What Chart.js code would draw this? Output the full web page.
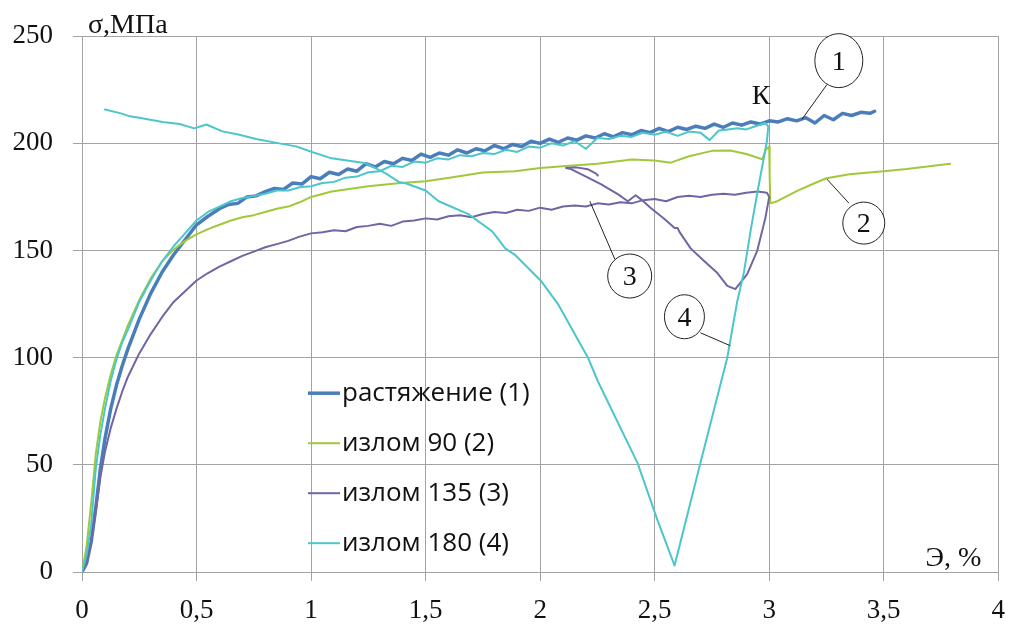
<!DOCTYPE html>
<html>
<head>
<meta charset="utf-8">
<script src="https://cdn.jsdelivr.net/npm/chart.js@4.4.1/dist/chart.umd.min.js"></script>
<style>
  body { margin: 0; background: #fff; }
  canvas { display: block; }
</style>
</head>
<body>
<canvas id="stressChart" width="1019" height="634"></canvas>
<script>
// растяжение (1)
const strain1 = [0, 0.02, 0.04, 0.06, 0.08, 0.1, 0.125, 0.15, 0.175, 0.2, 0.25, 0.3, 0.35, 0.4, 0.45, 0.5, 0.55,
  0.6, 0.64, 0.68, 0.72, 0.76, 0.8, 0.84, 0.88, 0.92, 0.96, 1.0, 1.04, 1.08, 1.12, 1.16, 1.2, 1.24, 1.28, 1.32, 1.36,
  1.4, 1.44, 1.48, 1.52, 1.56, 1.6, 1.64, 1.68, 1.72, 1.76, 1.8, 1.84, 1.88, 1.92, 1.96, 2.0, 2.04, 2.08, 2.12, 2.16,
  2.2, 2.24, 2.28, 2.32, 2.36, 2.4, 2.44, 2.48, 2.52, 2.56, 2.6, 2.64, 2.68, 2.72, 2.76, 2.8, 2.84, 2.88, 2.92, 2.96,
  3.0, 3.04, 3.08, 3.12, 3.16, 3.2, 3.24, 3.28, 3.32, 3.36, 3.4, 3.44, 3.46];
const stress1 = [0, 4, 14, 30, 48, 62, 76, 87, 96, 104, 118, 130, 140, 148, 155, 162, 166,
  169.5, 171.5, 172, 175, 175.5, 177.5, 179, 178.5, 181.5, 181, 184.5, 183.5, 186.5, 185.5, 188, 187, 190.5, 189, 191.5, 190.5,
  193, 192, 195, 193.5, 195.5, 194.5, 197, 195.5, 197.5, 196.5, 199, 197.5, 199.5, 198.5, 201, 200, 202, 200.5, 202.5, 201.5,
  203.5, 202.5, 204.5, 203, 205, 204, 206, 205, 207, 205.5, 207.5, 206.5, 208, 207, 209, 207.5, 209.5, 208.5, 210, 209,
  210.5, 210, 211.5, 210.5, 212, 209.5, 213, 211, 214, 213, 214.5, 214, 215];

// излом 90 (2)
const strain2 = [0, 0.02, 0.04, 0.06, 0.08, 0.1, 0.125, 0.15, 0.175, 0.2, 0.25, 0.3, 0.35, 0.4, 0.45, 0.5, 0.55, 0.6,
  0.65, 0.7, 0.75, 0.8, 0.85, 0.9, 0.95, 1.0, 1.09, 1.25, 1.38, 1.5, 1.59, 1.75, 1.89, 2.0, 2.1, 2.25, 2.4, 2.5, 2.57,
  2.65, 2.75, 2.83, 2.9, 2.97, 2.985, 3.0, 3.002, 3.005, 3.035, 3.08, 3.12, 3.2, 3.25, 3.35, 3.5, 3.6, 3.7, 3.79];
const stress2 = [0, 12, 32, 55, 70, 81, 92, 101, 108, 115, 127, 137, 145, 150.5, 154.5, 157.5, 160, 162,
  164, 165.5, 166.5, 168, 169.5, 170.5, 172.5, 175, 177.5, 180, 181.4, 182.3, 183.7, 186.4, 187, 188.5, 189.3, 190.5, 192.5, 192, 191,
  194, 196.5, 196.7, 195, 192.6, 197, 198.5, 185, 172, 173, 175.5, 177.7, 181.5, 183.7, 185.6, 187, 188, 189.3, 190.5];

// излом 135 (3)
const strain3 = [0, 0.02, 0.04, 0.06, 0.08, 0.1, 0.125, 0.15, 0.175, 0.2, 0.25, 0.3, 0.35, 0.4, 0.45, 0.5, 0.55, 0.6,
  0.65, 0.7, 0.75, 0.8, 0.85, 0.9, 0.95, 1.0, 1.05, 1.1, 1.15, 1.2, 1.25, 1.3, 1.35, 1.4, 1.45, 1.5, 1.55, 1.6, 1.65,
  1.7, 1.75, 1.8, 1.85, 1.9, 1.95, 2.0, 2.05, 2.1, 2.15, 2.2, 2.25, 2.3, 2.35, 2.4, 2.45, 2.5, 2.55, 2.6, 2.65, 2.7,
  2.75, 2.8, 2.85, 2.9, 2.95, 2.99, 3.0, 2.983, 2.948, 2.904, 2.852, 2.817, 2.774, 2.717, 2.657, 2.609, 2.6, 2.587,
  2.543, 2.483, 2.439, 2.417, 2.383, 2.339, 2.265, 2.196, 2.135, 2.113, 2.157, 2.209, 2.243, 2.252];
const stress3 = [0, 4, 14, 28, 44, 56, 67, 76, 84, 91, 102, 111, 119, 126, 131, 136, 139.5, 142.5,
  145, 147.5, 149.5, 151.5, 153, 154.5, 156.5, 158, 158.5, 159.5, 159, 161, 161.5, 162.5, 161.5, 163.5, 164, 165, 164.5, 166, 166.5,
  165.5, 167, 168, 167.5, 169, 168.5, 170, 169, 170.5, 171, 170.5, 172, 171.5, 172.5, 172, 173.5, 174, 173, 175, 175.5, 175,
  176, 176.5, 176, 177, 177.5, 177, 175, 165, 150, 139, 132, 133.5, 139.5, 145, 151, 158.6, 160.5, 160.5,
  164.7, 169.8, 174, 175.8, 173, 176.3, 181, 184.7, 188, 188.5, 188.8, 187.9, 186, 185];

// излом 180 (4)
const strain4 = [0, 0.02, 0.04, 0.06, 0.08, 0.1, 0.125, 0.15, 0.175, 0.2, 0.25, 0.3, 0.35, 0.4, 0.45, 0.5, 0.55, 0.6,
  0.65, 0.7, 0.75, 0.8, 0.85, 0.9, 0.95, 1.0, 1.05, 1.1, 1.15, 1.2, 1.25, 1.3, 1.35, 1.4, 1.45, 1.5, 1.55, 1.6, 1.65,
  1.7, 1.75, 1.8, 1.85, 1.9, 1.95, 2.0, 2.05, 2.1, 2.15, 2.2, 2.25, 2.3, 2.35, 2.4, 2.45, 2.5, 2.55, 2.6, 2.65, 2.7,
  2.74, 2.78, 2.82, 2.86, 2.9, 2.94, 2.98, 2.996,
  2.99, 2.95, 2.92, 2.89, 2.86, 2.817, 2.7, 2.587,
  2.513, 2.426, 2.252, 2.209, 2.078, 2.004, 1.89, 1.848, 1.79, 1.687, 1.6, 1.557, 1.5, 1.413, 1.383, 1.326, 1.24,
  1.09, 1.004, 0.935, 0.861, 0.76, 0.687, 0.613, 0.543, 0.49, 0.426, 0.352, 0.25, 0.209, 0.17, 0.1];
const stress4 = [0, 8, 22, 48, 64, 76, 89, 99, 107, 113, 126, 136, 145, 152, 158, 164, 168, 170.5,
  173, 174.5, 175.5, 176.5, 178, 178, 179.5, 180, 181.5, 182, 184, 184.5, 186.5, 187, 189.5, 189, 191.5, 191, 193, 192.5, 194.5,
  194, 195.5, 195, 197, 196, 198.5, 198, 200, 199, 201, 197.5, 202.5, 202, 203.5, 203, 205, 204, 205.5, 203.5, 205.5, 205,
  201.5, 206, 206.5, 207, 206.5, 208, 209.5, 208,
  201, 178, 160, 140, 126, 100, 51, 3,
  24, 50.7, 89, 100, 125, 135.8, 148, 151, 159, 167, 171, 173, 178, 181.4, 182, 186, 190.7,
  193, 196, 198.6, 200, 202, 204, 205.6, 208.8, 207, 209, 210, 212, 212.6, 214, 215.8];

const seriesNames = ['растяжение (1)', 'излом 90 (2)', 'излом 135 (3)', 'излом 180 (4)'];
const xTicks = [0, 0.5, 1, 1.5, 2, 2.5, 3, 3.5, 4];
const yTicks = [0, 50, 100, 150, 200, 250];

const colors = ['#4a7ebb', '#a0c93a', '#7165a3', '#4cc6ca'];
const widths = [3.5, 2, 2, 2];

const toPoints = (xs, ys) => xs.map((x, i) => ({ x: x, y: ys[i] }));
const allSeries = [
  toPoints(strain1, stress1),
  toPoints(strain2, stress2),
  toPoints(strain3, stress3),
  toPoints(strain4, stress4)
];

const serif = '"Liberation Serif", "Times New Roman", serif';
const gridColor = '#a3a3a3';

// numbered callouts: circle centre and leader line, in axis units
const callouts = [
  { label: '1', cx: 3.304, cy: 238.6, rx: 24, ry: 27, from: [3.252, 227.4], to: [3.143, 211.2] },
  { label: '2', cx: 3.413, cy: 162.8, rx: 21, ry: 21, from: [3.348, 172.1], to: [3.252, 183.3] },
  { label: '3', cx: 2.391, cy: 138.1, rx: 22, ry: 22, from: [2.326, 146], to: [2.217, 173] },
  { label: '4', cx: 2.630, cy: 119.1, rx: 20, ry: 22, from: [2.7, 111.6], to: [2.83, 105.6] }
];

const annotations = {
  id: 'annotations',
  afterDatasetsDraw(chart) {
    const { ctx, chartArea, scales: { x, y } } = chart;
    ctx.save();

    // circles with leader lines
    ctx.strokeStyle = '#222';
    ctx.lineWidth = 1;
    ctx.fillStyle = '#111';
    ctx.font = '28px ' + serif;
    ctx.textAlign = 'center';
    ctx.textBaseline = 'middle';
    callouts.forEach(c => {
      const px = x.getPixelForValue(c.cx);
      const py = y.getPixelForValue(c.cy);
      ctx.beginPath();
      ctx.moveTo(x.getPixelForValue(c.from[0]), y.getPixelForValue(c.from[1]));
      ctx.lineTo(x.getPixelForValue(c.to[0]), y.getPixelForValue(c.to[1]));
      ctx.stroke();
      ctx.beginPath();
      ctx.ellipse(px, py, c.rx, c.ry, 0, 0, Math.PI * 2);
      ctx.fillStyle = '#fff';
      ctx.fill();
      ctx.stroke();
      ctx.fillStyle = '#111';
      ctx.fillText(c.label, px, py + 2);
    });

    // point K
    ctx.fillText('К', x.getPixelForValue(2.965), y.getPixelForValue(221.9));

    // axis titles
    ctx.textAlign = 'left';
    ctx.textBaseline = 'alphabetic';
    ctx.fillText('σ,МПа', chartArea.left + 6, chartArea.top - 3);
    ctx.textAlign = 'right';
    ctx.fillText('Э, %', chartArea.right - 17, chartArea.bottom - 6);

    // legend inside the plot
    ctx.font = '26px "Open Sans", sans-serif';
    ctx.textAlign = 'left';
    ctx.textBaseline = 'middle';
    seriesNames.forEach((name, i) => {
      const ly = chartArea.top + 357 + i * 50;
      const lx = chartArea.left + 226;
      ctx.strokeStyle = colors[i];
      ctx.lineWidth = widths[i];
      ctx.beginPath();
      ctx.moveTo(lx, ly);
      ctx.lineTo(lx + 32, ly);
      ctx.stroke();
      ctx.fillStyle = '#111';
      ctx.fillText(name, lx + 34, ly);
    });

    ctx.restore();
  }
};

new Chart(document.getElementById('stressChart'), {
  type: 'scatter',
  data: {
    datasets: allSeries.map((pts, i) => ({
      label: seriesNames[i],
      data: pts,
      showLine: true,
      borderColor: colors[i],
      backgroundColor: colors[i],
      borderWidth: widths[i],
      borderJoinStyle: 'round',
      borderCapStyle: 'round',
      pointRadius: 0,
      tension: 0,
      order: 4 - i
    }))
  },
  options: {
    responsive: false,
    animation: false,
    devicePixelRatio: 1,
    layout: { padding: { left: 0, right: 17, top: 35, bottom: 0 } },
    plugins: {
      legend: { display: false },
      tooltip: { enabled: false }
    },
    scales: {
      x: {
        type: 'linear',
        min: 0,
        max: 4,
        afterFit: s => { s.height = 62; },
        afterBuildTicks: s => { s.ticks = xTicks.map(v => ({ value: v })); },
        grid: { color: gridColor, tickLength: 9, tickColor: gridColor },
        border: { color: gridColor },
        ticks: {
          color: '#111',
          padding: 14,
          maxRotation: 0,
          font: { family: serif, size: 27 },
          callback: v => String(v).replace('.', ',')
        }
      },
      y: {
        min: 0,
        max: 250,
        afterFit: s => { s.width = 82; },
        afterBuildTicks: s => { s.ticks = yTicks.map(v => ({ value: v })); },
        grid: { color: gridColor, tickLength: 9, tickColor: gridColor },
        border: { color: gridColor },
        ticks: {
          color: '#111',
          padding: 20,
          font: { family: serif, size: 27 }
        }
      }
    }
  },
  plugins: [annotations]
});
</script>
</body>
</html>
